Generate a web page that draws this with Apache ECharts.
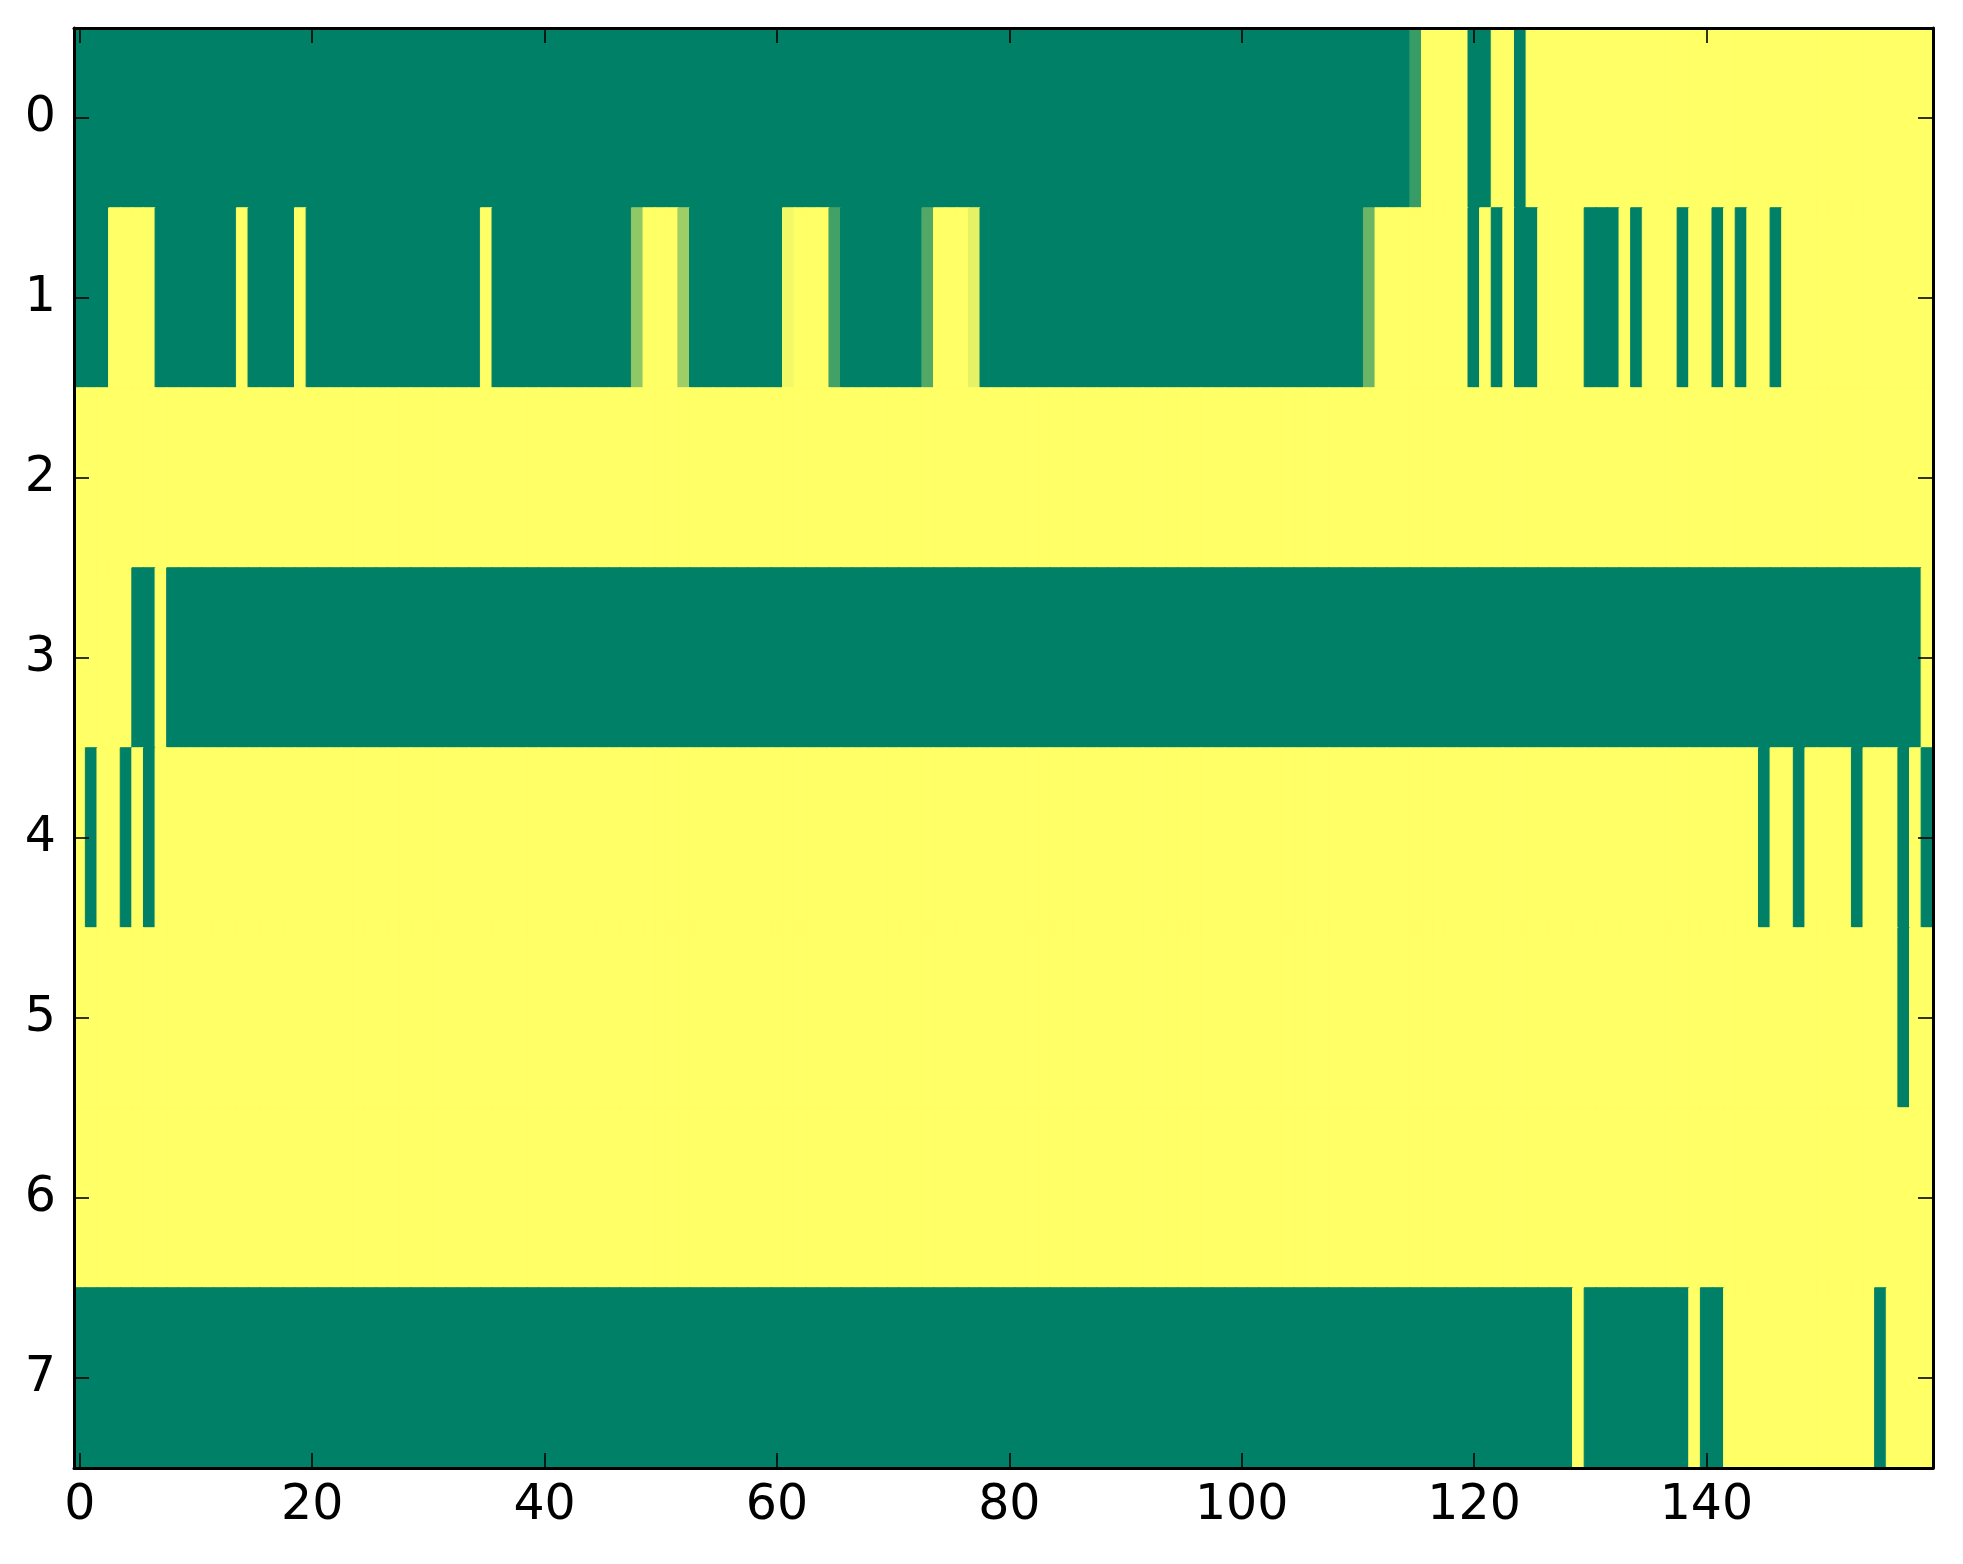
<!DOCTYPE html>
<html>
<head>
<meta charset="utf-8">
<script src="https://cdn.jsdelivr.net/npm/echarts@6/dist/echarts.min.js"></script>
<style>
html,body{margin:0;padding:0;background:#fff;}
#chart{width:1963px;height:1564px;}
</style>
</head>
<body>
<div id="chart"></div>
<script>
// Column categories 0..159 and row categories 0..7
var xCategories = [];
for (var c = 0; c < 160; c++) xCategories.push(String(c));
var yCategories = ['0','1','2','3','4','5','6','7'];
var xTickLabels = ['0','20','40','60','80','100','120','140'];

// Each row as runs: [value, count] (0 = green, 1 = yellow)
var row0 = [[0,115],[0.22,1],[1,4],[0,2],[1,2],[0,1],[1,35]];
var row1 = [[0,3],[1,4],[0,7],[1,1],[0,4],[1,1],[0,15],[1,1],[0,12],[0.57,1],[1,3],[0.62,1],
            [0,8],[0.95,1],[1,3],[0.26,1],[0,7],[0.32,1],[1,3],[0.9,1],[0,33],[0.42,1],[1,8],
            [0,1],[1,1],[0,1],[1,1],[0,2],[1,4],[0,3],[1,1],[0,1],[1,3],[0,1],[1,2],[0,1],[1,1],
            [0,1],[1,2],[0,1],[1,13]];
var row2 = [[1,160]];
var row3 = [[1,5],[0,2],[1,1],[0,151],[1,1]];
var row4 = [[1,1],[0,1],[1,2],[0,1],[1,1],[0,1],[1,138],[0,1],[1,2],[0,1],[1,4],[0,1],[1,3],[0,1],[1,1],[0,1]];
var row5 = [[1,157],[0,1],[1,2]];
var row6 = [[1,160]];
var row7 = [[0,129],[1,1],[0,9],[1,1],[0,2],[1,13],[0,1],[1,4]];

var rows = [row0,row1,row2,row3,row4,row5,row6,row7];

// matplotlib "summer" colormap: r = v, g = 0.5 + 0.5 v, b = 0.4
function summer(v){
  var r = Math.round(255*v), g = Math.round(255*(0.5+0.5*v)), b = 102;
  return 'rgb('+r+','+g+','+b+')';
}

var data = [];
rows.forEach(function(runs, r){
  var col = 0;
  runs.forEach(function(run){
    for (var k = 0; k < run[1]; k++) {
      var colr = summer(run[0]);
      data.push({value:[col, r, run[0]], itemStyle:{color:colr, borderColor:colr, borderWidth:1}});
      col++;
    }
  });
});

var labelFont = {fontFamily:'DejaVu Sans', fontSize:49, color:'#000'};
function xTickFn(i){ return xTickLabels.indexOf(String(i)) >= 0; }

var chart = echarts.init(document.getElementById('chart'), null, {renderer:'canvas'});
chart.setOption({
  animation:false,
  backgroundColor:'#fff',
  grid:{left:74, top:28, width:1859, height:1440, containLabel:false},
  xAxis:[{
    type:'category', data:xCategories, position:'bottom', z:10,
    axisLine:{show:true, onZero:false, lineStyle:{color:'#000', width:3}},
    axisTick:{show:true, inside:true, length:15, alignWithLabel:true, interval:function(i){return xTickFn(i);}, lineStyle:{color:'#000', width:1.6}},
    axisLabel:Object.assign({show:true, margin:14, interval:function(i){return xTickFn(i);}}, labelFont),
    splitLine:{show:false}
  },{
    type:'category', data:xCategories, position:'top', z:10,
    axisLine:{show:true, onZero:false, lineStyle:{color:'#000', width:3}},
    axisTick:{show:true, inside:true, length:15, alignWithLabel:true, interval:function(i){return xTickFn(i);}, lineStyle:{color:'#000', width:1.6}},
    axisLabel:{show:false},
    splitLine:{show:false}
  }],
  yAxis:[{
    type:'category', data:yCategories, inverse:true, position:'left', z:10,
    axisLine:{show:true, onZero:false, lineStyle:{color:'#000', width:3}},
    axisTick:{show:true, inside:true, length:15, alignWithLabel:true, lineStyle:{color:'#000', width:1.6}},
    axisLabel:Object.assign({show:true, margin:18}, labelFont),
    splitLine:{show:false}
  },{
    type:'category', data:yCategories, inverse:true, position:'right', z:10,
    axisLine:{show:true, onZero:false, lineStyle:{color:'#000', width:3}},
    axisTick:{show:true, inside:true, length:15, alignWithLabel:true, lineStyle:{color:'#000', width:1.6}},
    axisLabel:{show:false},
    splitLine:{show:false}
  }],
  series:[{
    type:'heatmap', xAxisIndex:0, yAxisIndex:0, data:data,
    emphasis:{disabled:true},
    progressive:0
  }]
});
</script>
</body>
</html>
